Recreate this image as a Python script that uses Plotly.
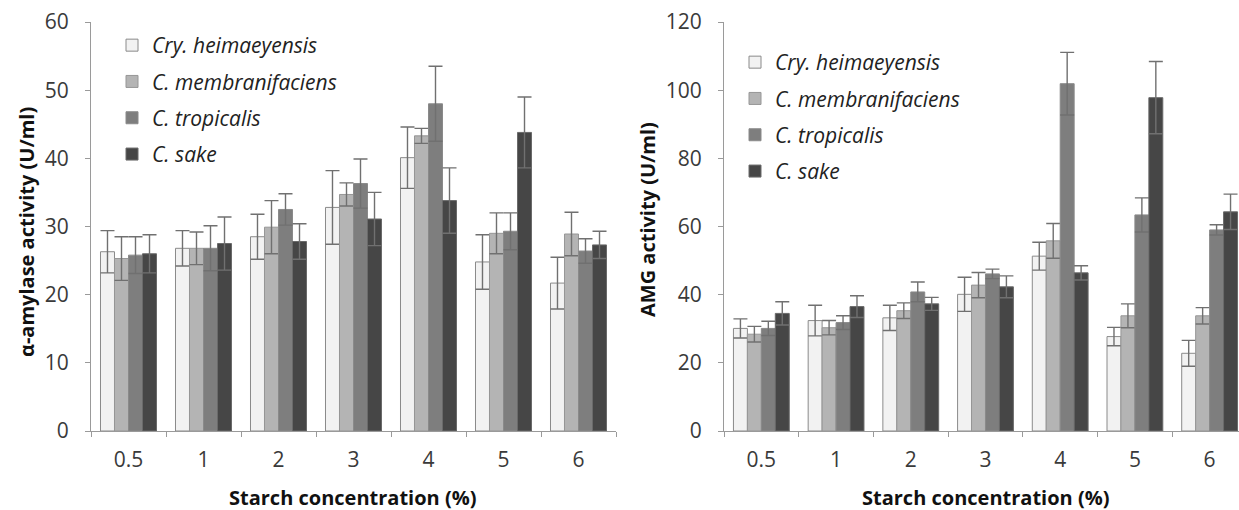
import plotly.graph_objects as go

# Starch concentrations (%) used as categories
categories = ["0.5", "1", "2", "3", "4", "5", "6"]
strains = ["Cry. heimaeyensis", "C. membranifaciens", "C. tropicalis", "C. sake"]

# alpha-amylase activity (U/ml), mean and SD per strain
amy_cry = [26.3, 26.8, 28.5, 32.8, 40.1, 24.8, 21.7]
amy_cry_sd = [3.1, 2.6, 3.3, 5.4, 4.5, 4.0, 3.8]
amy_mem = [25.3, 26.8, 29.9, 34.7, 43.3, 29.0, 28.9]
amy_mem_sd = [3.2, 2.4, 3.9, 1.7, 1.1, 3.0, 3.2]
amy_tro = [25.8, 26.8, 32.5, 36.3, 48.0, 29.3, 26.4]
amy_tro_sd = [2.7, 3.3, 2.3, 3.6, 5.5, 2.7, 1.8]
amy_sak = [26.0, 27.5, 27.8, 31.1, 33.8, 43.8, 27.3]
amy_sak_sd = [2.8, 3.9, 2.6, 3.9, 4.8, 5.2, 2.0]

# AMG activity (U/ml), mean and SD per strain
amg_cry = [30.1, 32.4, 33.2, 40.1, 51.3, 27.7, 22.8]
amg_cry_sd = [2.8, 4.5, 3.7, 5.0, 4.1, 2.7, 3.8]
amg_mem = [28.4, 30.3, 35.3, 42.8, 55.8, 33.8, 33.8]
amg_mem_sd = [2.3, 2.1, 2.3, 3.7, 5.1, 3.5, 2.4]
amg_tro = [30.1, 31.8, 40.8, 46.1, 101.9, 63.4, 59.0]
amg_tro_sd = [2.1, 2.0, 2.9, 1.4, 9.2, 5.0, 1.5]
amg_sak = [34.5, 36.5, 37.3, 42.3, 46.4, 97.8, 64.3]
amg_sak_sd = [3.4, 3.2, 1.9, 3.2, 2.1, 10.6, 5.2]

fills = ["#f2f2f2", "#b4b4b4", "#7e7e7e", "#464646"]
outlines = ["#8a8a8a", "#969696", "#8a8a8a", "#6a6a6a"]

W, H = 1239, 510
FONT = "Open Sans"

left_sets = [(amy_cry, amy_cry_sd), (amy_mem, amy_mem_sd), (amy_tro, amy_tro_sd), (amy_sak, amy_sak_sd)]
right_sets = [(amg_cry, amg_cry_sd), (amg_mem, amg_mem_sd), (amg_tro, amg_tro_sd), (amg_sak, amg_sak_sd)]

fig = go.Figure()


def add_panel(sets, xa, ya, legend_name):
    for i, (vals, sd) in enumerate(sets):
        fig.add_trace(go.Bar(
            x=categories, y=vals, name=strains[i],
            xaxis=xa, yaxis=ya, legend=legend_name,
            legendgroup=f"{legend_name}{i}",
            offsetgroup=str(i),
            marker=dict(color=fills[i], line=dict(color=outlines[i], width=1)),
            error_y=dict(type="data", array=sd, visible=True,
                         color="#707070", thickness=1.4, width=7),
        ))


add_panel(left_sets, "x", "y", "legend")
add_panel(right_sets, "x2", "y2", "legend2")

px_x = lambda p: p / W
px_y = lambda p: (H - p) / H

axis_common = dict(showline=True, linecolor="#9a9a9a", linewidth=1.2,
                   ticks="outside", ticklen=5, tickcolor="#9a9a9a",
                   showgrid=False, zeroline=False, automargin=False,
                   tickfont=dict(family=FONT, size=21, color="#3a3a3a"))

legend_common = dict(font=dict(family=FONT, size=21, color="#222222", style="italic"),
                     bgcolor="rgba(0,0,0,0)", itemwidth=30,
                     traceorder="grouped", tracegroupgap=6,
                     xanchor="left", yanchor="top")

fig.update_layout(
    width=W, height=H,
    margin=dict(l=0, r=0, t=0, b=0, autoexpand=False),
    paper_bgcolor="white", plot_bgcolor="white",
    barmode="group", bargap=0.253, bargroupgap=0,
    showlegend=True,
    xaxis=dict(axis_common, type="category", tickson="boundaries",
               domain=[px_x(91), px_x(616)], range=[-0.5, 6.5], anchor="y",
               ticklabelstandoff=10),
    yaxis=dict(axis_common, domain=[px_y(431), px_y(22)], range=[0, 60], dtick=10,
               anchor="x", ticklabelstandoff=12),
    xaxis2=dict(axis_common, type="category", tickson="boundaries",
                domain=[px_x(724), 1.0], range=[-0.5, 6.5 - 8 / 75], anchor="y2",
                ticklabelstandoff=10),
    yaxis2=dict(axis_common, domain=[px_y(431), px_y(22)], range=[0, 120], dtick=20,
                anchor="x2", ticklabelstandoff=12),
    legend=dict(legend_common, x=px_x(112), y=px_y(25)),
    legend2=dict(legend_common, x=px_x(735), y=px_y(42)),
)

title_font = dict(family=FONT, size=20, color="#111111", weight="bold")
titles = [
    ("α-amylase activity (U/ml)", -90, 26, 232),
    ("AMG activity (U/ml)", -90, 647, 220),
    ("Starch concentration (%)", 0, 352, 497),
    ("Starch concentration (%)", 0, 985, 497),
]
for text, angle, tx, ty in titles:
    fig.add_annotation(text=text, textangle=angle, x=px_x(tx), y=px_y(ty),
                       xref="paper", yref="paper", xanchor="center", yanchor="middle",
                       showarrow=False, font=title_font)

fig.write_html("out.html")
